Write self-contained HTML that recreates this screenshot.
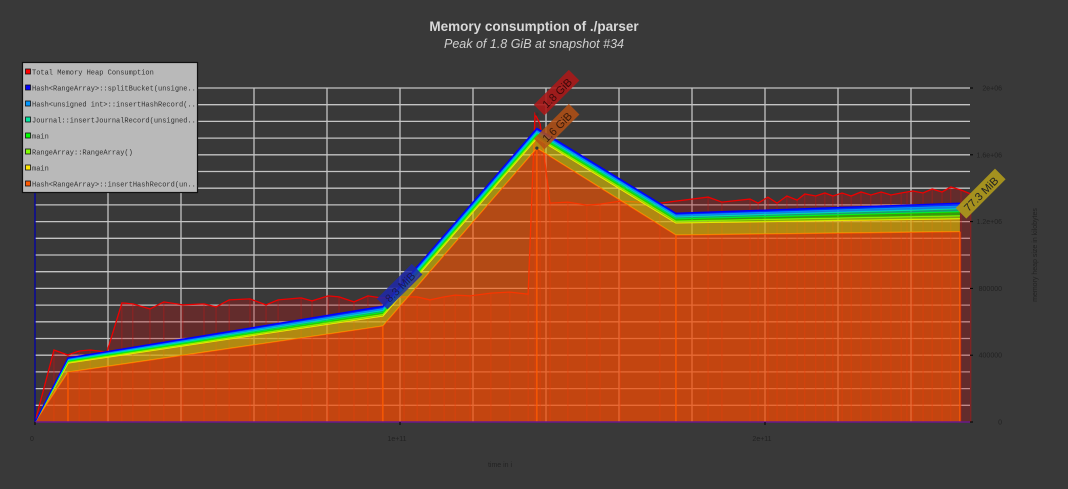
<!DOCTYPE html>
<html><head><meta charset="utf-8"><style>
html,body{margin:0;padding:0;background:#393939;}
svg{display:block;font-family:"Liberation Sans",sans-serif;}
.mono{font-family:"Liberation Mono",monospace;}
</style></head><body>
<svg id="chart" width="1068" height="489" viewBox="0 0 1068 489">
<rect x="0" y="0" width="1068" height="489" fill="#393939"/>
<text x="534" y="31" text-anchor="middle" font-size="13.5" font-weight="bold" fill="#d8d8d8">Memory consumption of ./parser</text>
<text x="534" y="48" text-anchor="middle" font-size="12.5" font-style="italic" fill="#cfcfcf">Peak of 1.8 GiB at snapshot #34</text>
<g id="grid"></g>
<g id="total"></g>
<g id="layers"></g>
<g id="axes"></g>
<g id="labels"></g>
<text x="500" y="467" text-anchor="middle" font-size="7" fill="#222">time in i</text>
<text transform="translate(1037,255) rotate(-90)" text-anchor="middle" font-size="7" fill="#222">memory heap size in kilobytes</text>
<g id="legend"></g>
</svg>
<script>
// ---- data ----
const xTicks = [0, 1e11, 2e11];
const xTickLabels = ["0", "1e+11", "2e+11"];
const yTicks = [0, 400000, 800000, 1200000, 1600000, 2000000];
const yTickLabels = ["0", "400000", "800000", "1.2e+06", "1.6e+06", "2e+06"];
// total heap snapshots (time in 1e9 units, kB)
const totalTimes = [0,5.2,9.0,12.1,15.1,19.7,23.8,26.8,31.5,35.3,40.5,46.3,49.6,53.2,58.9,63.3,66.6,72.9,75.9,80.3,83.3,87.4,91.2,94.8,101.1,104.7,108.2,112.1,115.1,119.2,124.9,130.1,135.1,137.0,138.4,141.1,146.0,151.2,154.8,160.3,171.2,184.4,188.2,195.9,198.1,200.8,203.3,206.0,208.8,210.9,213.9,216.4,218.6,221.1,223.6,226.3,229.0,231.8,234.5,237.3,238.9,240.5,243.3,245.8,248.5,250.9,253.7,256.4];
const totalValues = [0,431,401,425,431,419,713,707,677,719,701,707,689,731,737,701,731,743,725,755,749,719,755,743,749,749,731,749,760,755,772,778,766,1844,1784,1311,1317,1299,1305,1323,1311,1347,1317,1335,1311,1347,1311,1353,1329,1365,1353,1371,1353,1371,1353,1377,1359,1377,1359,1371,1377,1383,1371,1395,1377,1407,1389,1365];
// stacked layer snapshots
const layerTimes = [0, 9.04, 95.3, 137.5, 175.6, 253.4];
const layerNames = ["Total Memory Heap Consumption","Hash<RangeArray>::splitBucket(unsigne...","Hash<unsigned int>::insertHashRecord(...","Journal::insertJournalRecord(unsigned...","main","RangeArray::RangeArray()","main","Hash<RangeArray>::insertHashRecord(un..."];
const legendColors = ["#ff0000","#0000ff","#0096ff","#00e6a0","#00ff00","#80ff00","#ffe600","#ff5a00"];
const orangeVals = [0, 299, 575, 1640, 1120, 1140];
const yellowVals = [0, 54, 60, 60, 72, 78];
const limeVals   = [0, 6, 10, 10, 12, 18];
const greenVals  = [0, 6, 12, 12, 12, 24];
const tealVals   = [0, 6, 12, 12, 12, 18];
const lblueVals  = [0, 6, 12, 12, 12, 18];
const blueVals   = [0, 6, 12, 12, 10, 14];

// ---- scales ----
const X0=35, X1=970, Y0=422, YTOP=88;
const xs = t => X0 + t/1e11*365;        // t in raw time
const xg = t => xs(t*1e9);               // t in 1e9 units
const ys = v => Y0 - v/2e6*(Y0-YTOP);    // v in kB
const yk = v => ys(v*1000);
const NS="http://www.w3.org/2000/svg";
function mk(tag, attrs, parent){const e=document.createElementNS(NS,tag);for(const k in attrs)e.setAttribute(k,attrs[k]);parent.appendChild(e);return e;}

// grid
const grid=document.getElementById('grid');
for(let v=100000; v<=2000000; v+=100000){
  const l=mk('line',{x1:X0,x2:X1,y1:ys(v),y2:ys(v),stroke:'#c4c4c4','stroke-width':1.3},grid);
  
  
}
for(let t=2e10; t<2.6e11; t+=2e10){
  const l=mk('line',{x1:xs(t),x2:xs(t),y1:YTOP,y2:Y0,stroke:'#c4c4c4','stroke-width':1.3},grid);
  
  
}

// total series
const tot=document.getElementById('total');
let pts=totalTimes.map((t,i)=>xg(t).toFixed(1)+','+yk(totalValues[i]).toFixed(1));
const ta=mk('polygon',{points:pts.join(' ')+' '+xg(totalTimes[totalTimes.length-1])+','+Y0+' '+X0+','+Y0,fill:'rgba(190,20,20,0.32)'},tot);


totalTimes.forEach((t,i)=>{
  const l=mk('line',{x1:xg(t),x2:xg(t),y1:yk(totalValues[i]),y2:Y0,stroke:'rgba(200,20,20,0.5)','stroke-width':1},tot);
  
  
});
const tl=mk('polyline',{points:pts.join(' '),fill:'none',stroke:'#ee0000','stroke-width':1.3},tot);



// stacked layers
const lay=document.getElementById('layers');
const series=[
 {v:orangeVals,fill:'rgba(255,85,0,0.62)',stroke:'#ff5a00',name:'layer-hash-insert-record'},
 {v:yellowVals,fill:'rgba(230,200,0,0.6)',stroke:'#ffee00',name:'layer-main-yellow'},
 {v:limeVals,fill:'rgba(140,220,0,0.7)',stroke:'#a0ff00',name:'layer-rangearray'},
 {v:greenVals,fill:'rgba(40,200,0,0.7)',stroke:'#00ff00',name:'layer-main-green'},
 {v:tealVals,fill:'rgba(0,200,140,0.7)',stroke:'#00f0a0',name:'layer-journal'},
 {v:lblueVals,fill:'rgba(0,150,255,0.8)',stroke:'#00a0ff',name:'layer-hash-unsigned'},
 {v:blueVals,fill:'rgba(0,40,255,0.9)',stroke:'#0000ff',name:'layer-split-bucket'}
];
let base=layerTimes.map(()=>0);
series.forEach(s=>{
  const top=base.map((b,i)=>b+s.v[i]);
  const up=layerTimes.map((t,i)=>xg(t).toFixed(1)+','+yk(top[i]).toFixed(1));
  const dn=layerTimes.map((t,i)=>xg(t).toFixed(1)+','+yk(base[i]).toFixed(1)).reverse();
  const p=mk('polygon',{points:up.concat(dn).join(' '),fill:s.fill},lay);
  
  
  const l=mk('polyline',{points:up.join(' '),fill:'none',stroke:s.stroke,'stroke-width':1.3},lay);
  
  
  base=top;
});
layerTimes.forEach((t,i)=>{ if(i===0)return;
  const l=mk('line',{x1:xg(t),x2:xg(t),y1:yk(orangeVals[i]),y2:Y0,stroke:'#ff5a00','stroke-width':1.3},lay);
  
  
});

// axes
const ax=document.getElementById('axes');
let a=mk('line',{x1:X0,x2:X0,y1:YTOP,y2:Y0,stroke:'#0000aa','stroke-width':1.3},ax);

a=mk('line',{x1:X0,x2:X1,y1:Y0,y2:Y0,stroke:'#6a1a8a','stroke-width':1.5},ax);

yTicks.forEach((v,i)=>{
  const t=mk('line',{x1:X1,x2:X1+3,y1:ys(v),y2:ys(v),stroke:'#000','stroke-width':1},ax);
  
  
  const tx=mk('text',{x:1002,y:ys(v)+2.5,'text-anchor':'end','font-size':7,fill:'#222'},ax);
  tx.textContent=yTickLabels[i];
  
  
});
xTicks.forEach((v,i)=>{
  const t=mk('line',{x1:xs(v),x2:xs(v),y1:Y0,y2:Y0+3,stroke:'#000','stroke-width':1},ax);
  
  
  const tx=mk('text',{x:xs(v)-3,y:441,'text-anchor':'middle','font-size':7,fill:'#222'},ax);
  tx.textContent=xTickLabels[i];
  
  
});

// peak labels
const lb=document.getElementById('labels');
const labs=[
 {x:400,y:287,t:'8.3 MiB',bg:'rgba(30,40,170,0.85)',fg:'#1a1a50',n:'label-8-3-mib'},
 {x:557,y:93,t:'1.8 GiB',bg:'rgba(170,25,25,0.9)',fg:'#3a0a0a',n:'label-1-8-gib'},
 {x:557,y:127,t:'1.6 GiB',bg:'rgba(180,80,20,0.85)',fg:'#3a1a0a',n:'label-1-6-gib'},
 {x:981,y:194,t:'77.3 MiB',bg:'rgba(170,150,30,0.95)',fg:'#222',n:'label-77-3-mib'}
];
labs.forEach(L=>{
  const g=mk('g',{transform:'translate('+L.x+','+L.y+') rotate(-45)'},lb);
  
  
  const w=L.t.length*6.2+6;
  mk('rect',{x:-w/2,y:-8,width:w,height:15,fill:L.bg},g);
  const tx=mk('text',{x:0,y:4,'text-anchor':'middle','font-size':11,fill:L.fg},g);
  tx.textContent=L.t;
});
[[537,1844],[537,1640]].forEach(p=>{
  const c=mk('circle',{cx:xg(137.5),cy:yk(p[1]),r:1.6,fill:'#333'},lb);
  
  
});

// legend
const lg=document.getElementById('legend');
const box=mk('rect',{x:22.5,y:62.5,width:175,height:130,fill:'#b9b9b9',stroke:'#111','stroke-width':1.2},lg);


layerNames.forEach((n,i)=>{
  const y=72+i*16;
  const g=mk('g',{},lg);
  
  
  mk('rect',{x:25.5,y:y-3,width:5,height:5,fill:legendColors[i],stroke:'#111','stroke-width':0.8},g);
  const tx=mk('text',{x:32,y:y+2.5,'font-size':7,fill:'#333','class':'mono'},g);
  tx.textContent=n;
});
</script>
</body></html>
